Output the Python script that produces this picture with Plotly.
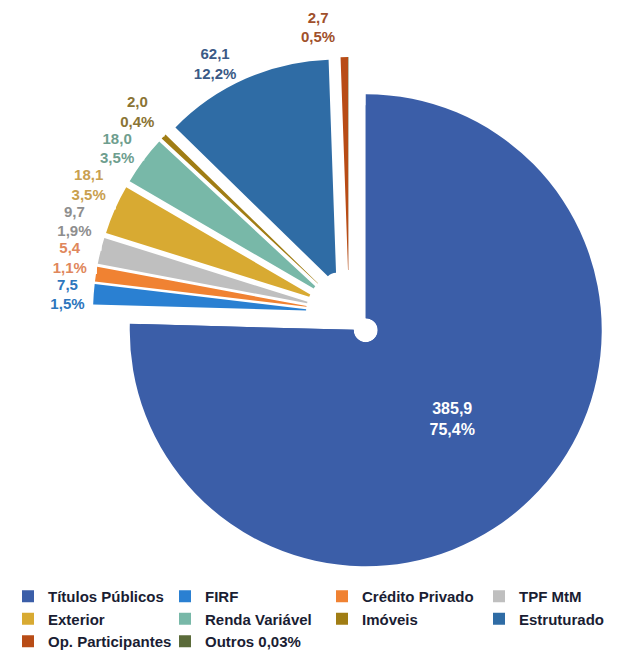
import plotly.graph_objects as go

categories = ["Títulos Públicos", "FIRF", "Crédito Privado", "TPF MtM", "Exterior",
              "Renda Variável", "Imóveis", "Estruturado", "Op. Participantes", "Outros 0,03%"]
values = [385.9, 7.5, 5.4, 9.7, 18.1, 18.0, 2.0, 62.1, 2.7, 0.15]
percent_labels = ["75,4%", "1,5%", "1,1%", "1,9%", "3,5%", "3,5%", "0,4%", "12,2%", "0,5%", ""]

slice_colors = ["#3b5ea8", "#2a80d2", "#f08232", "#bfbfbf", "#d8aa32",
                "#78b8a8", "#a07d14", "#2f6ca5", "#b84c16", "#5b6b3a"]
label_colors = ["#ffffff", "#2d76bd", "#e0875c", "#8e8e8e", "#c9a04f",
                "#6e9e8e", "#8a7434", "#3b5a86", "#a0502b", "#5b6b3a"]

FONT = "Liberation Sans, Arial, sans-serif"
W, H = 630, 656
CX, CY = 341, 305          # pie centre (px)
R_MAIN, R_SMALL = 236.0, 225.0
PULL_MAIN_PX, PULL_SMALL_PX = 24.0, 31.0
HOLE_PX = 12.0


def fmt(v):
    return f"{v:.1f}".replace(".", ",")


def domain_for(r, pull_px):
    half = r + pull_px
    return dict(x=[(CX - half) / W, (CX + half) / W],
                y=[1 - (CY + half) / H, 1 - (CY - half) / H])


n = len(values)
is_main = [i == 0 for i in range(n)]

# trace with all small slices (and legend colours)
texts_small = []
for i, (v, p, c) in enumerate(zip(values, percent_labels, label_colors)):
    if is_main[i] or not p:
        texts_small.append("")
    else:
        texts_small.append(f"<span style='color:{c}'>{fmt(v)}</span><br><span style='color:{c}'>{p}</span>")

pull_small = [(PULL_MAIN_PX if m else PULL_SMALL_PX) / R_SMALL for m in is_main]

small = go.Pie(
    labels=categories, values=values,
    text=texts_small, textinfo="text",
    textposition=["inside" if m else "outside" for m in is_main],
    sort=False, direction="clockwise", rotation=0,
    pull=pull_small, hole=HOLE_PX / R_SMALL,
    marker=dict(colors=slice_colors, line=dict(width=0)),
    outsidetextfont=dict(family=FONT, size=15, color="#ffffff", weight="bold"),
    insidetextfont=dict(family=FONT, size=15, color="#ffffff", weight="bold"),
    domain=domain_for(R_SMALL, PULL_SMALL_PX),
    hoverinfo="label+value",
)

# trace with the big slice only (others transparent)
texts_main = [f"{fmt(v)}<br>{p}" if m else "" for v, p, m in zip(values, percent_labels, is_main)]
main_colors = [c if m else "rgba(0,0,0,0)" for c, m in zip(slice_colors, is_main)]
pull_main = [(PULL_MAIN_PX / R_MAIN) if m else 0 for m in is_main]

main = go.Pie(
    labels=categories, values=values,
    text=texts_main, textinfo="text",
    textposition="inside",
    sort=False, direction="clockwise", rotation=0,
    pull=pull_main, hole=HOLE_PX / R_MAIN,
    marker=dict(colors=main_colors, line=dict(width=0)),
    insidetextfont=dict(family=FONT, size=16, color="#ffffff", weight="bold"),
    insidetextorientation="horizontal",
    domain=domain_for(R_MAIN, PULL_MAIN_PX),
    showlegend=False,
    hoverinfo="skip",
)

fig = go.Figure([small, main])

fig.update_layout(
    width=W, height=H,
    margin=dict(l=0, r=0, t=0, b=0, autoexpand=False),
    paper_bgcolor="white",
    plot_bgcolor="white",
    showlegend=True,
    legend=dict(
        orientation="h",
        x=0.0, xanchor="left",
        y=1 - 572 / H, yanchor="top",
        entrywidth=112,
        font=dict(family=FONT, size=15, color="#1a1d33", weight="bold"),
        itemwidth=30,
        traceorder="normal",
    ),
)

fig.write_html("out.html")
